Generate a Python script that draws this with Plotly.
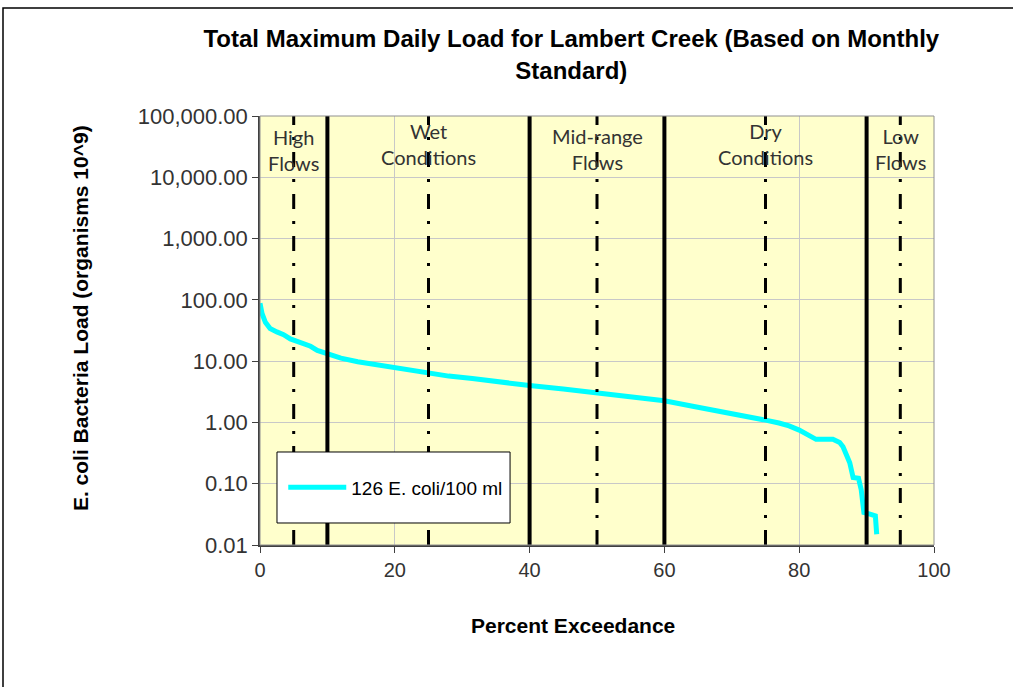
import plotly.graph_objects as go

# ---- data ----
pct_exceed = [0, 0.3, 0.8, 1.5, 2.5, 3.5, 4.5, 5.5, 6.5, 7.5, 8.5, 10, 12, 14.5, 17, 20,
              22.5, 25, 28, 31.5, 35, 40, 45, 50, 55, 60, 64, 68, 72, 75, 77, 78.5, 80,
              81.5, 82.5, 85, 86, 86.5, 87, 87.5, 88, 88.8, 89.2, 89.6, 90.5, 91.3, 91.5]
load = [88, 60, 43, 34, 30, 27, 23, 21, 19.8, 17.5, 15, 13, 11.2, 9.8, 8.8, 7.9,
        7.0, 6.3, 5.7, 5.2, 4.6, 4.0, 3.5, 3.0, 2.6, 2.25, 1.85, 1.55, 1.28, 1.09, 0.98, 0.88, 0.75,
        0.62, 0.53, 0.53, 0.47, 0.40, 0.30, 0.22, 0.126, 0.123, 0.08, 0.034, 0.032, 0.030, 0.015]
series_name = "126 E. coli/100 ml"

zone_bounds = [10, 40, 60, 90]
zone_mids = [5, 25, 50, 75, 95]
zone_labels = ["High<br>Flows", "Wet<br>Conditions", "Mid-range<br>Flows", "Dry<br>Conditions", "Low<br>Flows"]
zone_label_y = [0.921, 0.935, 0.922, 0.935, 0.922]

y_ticks = [0.01, 0.1, 1, 10, 100, 1000, 10000, 100000]
x_ticks = [0, 20, 40, 60, 80, 100]

title_text = "Total Maximum Daily Load for Lambert Creek (Based on Monthly<br>Standard)"
x_title = "Percent Exceedance"
y_title = "E. coli Bacteria Load (organisms 10^9)"

fig = go.Figure()
fig.add_trace(go.Scatter(x=pct_exceed, y=load, mode="lines", name=series_name,
                         line=dict(color="#00FFFF", width=5), showlegend=True))

shapes = []
for xb in zone_bounds:
    shapes.append(dict(type="line", xref="x", yref="paper", x0=xb, x1=xb, y0=0, y1=1,
                       line=dict(color="black", width=4), layer="above"))
for xm in zone_mids:
    shapes.append(dict(type="line", xref="x", yref="paper", x0=xm, x1=xm, y0=0, y1=1,
                       line=dict(color="black", width=3, dash="15px,12px,3px,12px"), layer="above"))
# plot frame
shapes.append(dict(type="rect", xref="paper", yref="paper", x0=0, x1=1, y0=0, y1=1,
                   line=dict(color="#909090", width=1), layer="above"))
# legend box
shapes.append(dict(type="rect", xref="paper", yref="paper", x0=0.0252, x1=0.371, y0=0.0513, y1=0.2168,
                   fillcolor="white", line=dict(color="black", width=1), layer="above"))
# outer chart border
shapes.append(dict(type="rect", xref="paper", yref="paper", x0=-0.3813, x1=2, y0=-2, y1=1.2517,
                   line=dict(color="black", width=1.5), layer="above"))

annotations = []
for xm, lab, yy in zip(zone_mids, zone_labels, zone_label_y):
    annotations.append(dict(x=xm, y=yy, xref="x", yref="paper", text=lab, showarrow=False,
                            font=dict(family="Lato", size=20, color="#333333"),
                            xanchor="center", yanchor="middle"))
# axis titles
annotations.append(dict(x=0.465, y=-0.187, xref="paper", yref="paper", text=x_title, showarrow=False,
                        font=dict(family="Liberation Sans, Arial", size=21, color="black", weight="bold"),
                        xanchor="center", yanchor="middle"))
annotations.append(dict(x=-0.267, y=0.529, xref="paper", yref="paper", text=y_title, showarrow=False,
                        textangle=-90,
                        font=dict(family="Liberation Sans, Arial", size=21, color="black", weight="bold"),
                        xanchor="center", yanchor="middle"))

fig.update_layout(
    width=1013, height=687,
    margin=dict(l=260, r=79, t=116, b=142),
    paper_bgcolor="white", plot_bgcolor="#FFFFCC",
    title=dict(text=title_text, x=0.564, xref="container", xanchor="center",
               y=0.931, yref="container", yanchor="top",
               font=dict(family="Liberation Sans, Arial", size=24, color="black", weight="bold")),
    font=dict(family="Liberation Sans, Arial", color="#333333"),
    shapes=shapes, annotations=annotations,
    showlegend=True,
    legend=dict(x=0.0345, y=0.134, xanchor="left", yanchor="middle", bgcolor="rgba(0,0,0,0)",
                borderwidth=0, itemwidth=58,
                font=dict(family="Liberation Sans, Arial", size=19, color="black")),
)
fig.update_xaxes(range=[0, 100], tickvals=x_ticks, ticktext=[str(v) for v in x_ticks],
                 showgrid=True, gridcolor="#C8C8C8", gridwidth=1,
                 showline=True, linecolor="#404040", linewidth=1.5,
                 ticks="outside", ticklen=6, tickcolor="#404040",
                 tickfont=dict(size=20, color="#333333"), zeroline=False)
fig.update_yaxes(type="log", range=[-2, 5], tickvals=y_ticks,
                 ticktext=[f"{v:,.2f}" for v in y_ticks],
                 showgrid=True, gridcolor="#C8C8C8", gridwidth=1,
                 showline=True, linecolor="#404040", linewidth=1.5,
                 ticks="outside", ticklen=6, tickcolor="#404040",
                 tickfont=dict(size=22, color="#333333"), zeroline=False)

fig.write_html("out.html", config={"displayModeBar": False},
               post_script="document.body.style.margin='0px';")
